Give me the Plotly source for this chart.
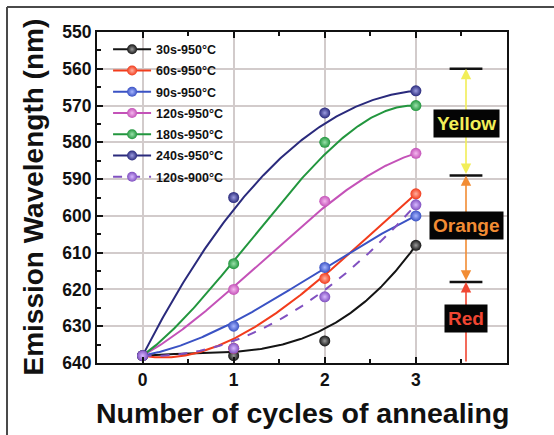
import numpy as np
import plotly.graph_objects as go

# Annealing cycles and measured emission wavelength (nm) for each condition
cycles = [0, 1, 2, 3]
wl_30s_950 = [638, 638, 634, 608]
wl_60s_950 = [638, 636, 617, 594]
wl_90s_950 = [638, 630, 614, 600]
wl_120s_950 = [638, 620, 596, 583]
wl_180s_950 = [638, 613, 580, 570]
wl_240s_950 = [638, 595, 572, 566]
wl_120s_900 = [638, 636, 622, 597]

series_names = ["30s-950°C", "60s-950°C", "90s-950°C", "120s-950°C",
                "180s-950°C", "240s-950°C", "120s-900°C"]
series_values = [wl_30s_950, wl_60s_950, wl_90s_950, wl_120s_950,
                 wl_180s_950, wl_240s_950, wl_120s_900]
series_colors = ["#141414", "#f23c1c", "#3a52c4", "#c452b8",
                 "#22963e", "#2a2a7c", "#8050c0"]
series_highlights = ["#9a9a9a", "#ffb0a0", "#a8b6ff", "#f4b8ee",
                     "#9ae0aa", "#9c9ce0", "#d8b8ff"]
series_dash = ["solid"] * 6 + ["dash"]

# Colour bands: boundaries (nm) and labels
band_edges = [560, 589, 618, 640]
band_names = ["Yellow", "Orange", "Red"]
band_colors = ["#f2ee58", "#f28c34", "#f04632"]

FONT = "Liberation Sans, Arial, sans-serif"


def smooth_curve(xv, yv, n=200):
    """Smooth connector: average of a Bezier through the control points
    and the cubic interpolant of the same points."""
    xv = np.asarray(xv, float)
    yv = np.asarray(yv, float)
    t = np.linspace(0, 1, n)
    xs = xv[0] + (xv[-1] - xv[0]) * t
    bez = ((1 - t) ** 3 * yv[0] + 3 * (1 - t) ** 2 * t * yv[1]
           + 3 * (1 - t) * t ** 2 * yv[2] + t ** 3 * yv[3])
    interp = np.polyval(np.polyfit(xv, yv, 3), xs)
    return xs, 0.5 * (bez + interp)


fig = go.Figure()

# smooth curves
for name, vals, col, dash in zip(series_names, series_values, series_colors, series_dash):
    xs, ys = smooth_curve(cycles, vals)
    fig.add_trace(go.Scatter(x=xs, y=ys, mode="lines", showlegend=False,
                             line=dict(color=col, width=2, dash=dash),
                             hoverinfo="skip"))

# measured points
for name, vals, col, hi in zip(series_names, series_values, series_colors, series_highlights):
    fig.add_trace(go.Scatter(x=cycles, y=vals, mode="markers", showlegend=False,
                             name=name,
                             marker=dict(size=11, color=col, line=dict(width=0),
                                         gradient=dict(type="radial", color=hi))))

# legend entries
for i, (name, col, hi, dash) in enumerate(zip(series_names, series_colors,
                                              series_highlights, series_dash)):
    fig.add_trace(go.Scatter(x=[None], y=[None], mode="lines+markers", name=name,
                             legendgroup=f"g{i}",
                             line=dict(color=col, width=2, dash=dash),
                             marker=dict(size=10, color=col, line=dict(width=0),
                                         gradient=dict(type="radial", color=hi))))

shapes = []
# outer frame (left and top)
shapes.append(dict(type="line", xref="paper", yref="paper",
                   x0=-0.2195, x1=-0.2195, y0=1.0755, y1=-0.25,
                   line=dict(color="#4a4a4a", width=2)))
shapes.append(dict(type="line", xref="paper", yref="paper",
                   x0=-0.2195, x1=1.2, y0=1.0755, y1=1.0755,
                   line=dict(color="#4a4a4a", width=2)))

band_x = 3.55
for edge in band_edges[:-1]:
    shapes.append(dict(type="line", xref="x", yref="y",
                       x0=band_x - 0.18, x1=band_x + 0.18, y0=edge, y1=edge,
                       line=dict(color="#111111", width=2.5)))

annotations = []
for i, (name, col) in enumerate(zip(band_names, band_colors)):
    top, bottom = band_edges[i], band_edges[i + 1]
    last = i == len(band_names) - 1
    annotations.append(dict(x=band_x, y=top, ax=band_x, ay=bottom,
                            xref="x", yref="y", axref="x", ayref="y",
                            text="", showarrow=True,
                            arrowhead=2, arrowsize=1.3, arrowwidth=1.6,
                            startarrowhead=2, startarrowsize=1.3,
                            arrowside="end" if last else "end+start",
                            arrowcolor=col))
label_y = [575, 602.5, 628]
for name, col, ly in zip(band_names, band_colors, label_y):
    annotations.append(dict(x=band_x, y=ly, xref="x", yref="y", text=name,
                            showarrow=False, bgcolor="#050505",
                            borderpad=3,
                            font=dict(family=FONT, size=19, color=col, weight="bold")))

# axis titles
annotations.append(dict(text="Number of cycles of annealing", xref="paper", yref="paper",
                        x=0.5, y=-0.152, xanchor="center", yanchor="middle",
                        showarrow=False,
                        font=dict(family=FONT, size=28.5, color="#111111", weight="bold")))
annotations.append(dict(text="Emission Wavelength (nm)", xref="paper", yref="paper",
                        x=-0.156, y=0.5, xanchor="center", yanchor="middle",
                        textangle=-90, showarrow=False,
                        font=dict(family=FONT, size=28, color="#111111", weight="bold")))

tickfont = dict(family=FONT, size=17.5, color="#111111", weight="bold")

fig.update_layout(
    width=554, height=435,
    margin=dict(l=97, r=47, t=32, b=72),
    paper_bgcolor="white", plot_bgcolor="white",
    shapes=shapes, annotations=annotations,
    showlegend=True,
    legend=dict(x=0.027, y=0.992, xanchor="left", yanchor="top",
                bgcolor="rgba(0,0,0,0)", tracegroupgap=2, itemwidth=38,
                font=dict(family=FONT, size=12.5, color="#111111", weight="bold")),
    xaxis=dict(range=[-0.5, 4], tickvals=[0, 1, 2, 3], ticks="inside",
               ticklen=6, tickwidth=2, tickcolor="#111111",
               showline=True, linewidth=2, linecolor="#111111", mirror="ticks",
               showgrid=True, gridcolor="#d2cbcb", gridwidth=1.5, zeroline=False,
               minor=dict(tick0=0, dtick=0.5, ticks="inside", ticklen=4,
                          tickwidth=1.5, tickcolor="#111111", showgrid=False),
               tickfont=tickfont, automargin=False),
    yaxis=dict(range=[640, 550], tick0=550, dtick=10, ticks="inside",
               ticklen=6, tickwidth=2, tickcolor="#111111",
               showline=True, linewidth=2, linecolor="#111111", mirror=True,
               showgrid=True, gridcolor="#d2cbcb", gridwidth=1.5, zeroline=False,
               minor=dict(dtick=5, ticks="inside", ticklen=4, tickwidth=1.5,
                          tickcolor="#111111", showgrid=False),
               tickfont=tickfont, automargin=False),
    yaxis2=dict(range=[640, 550], tick0=550, dtick=10, overlaying="y", side="right",
                anchor="x", ticks="inside", ticklen=6, tickwidth=2, tickcolor="#111111",
                showline=True, linewidth=2, linecolor="#111111",
                showgrid=False, zeroline=False,
                minor=dict(dtick=5, ticks="inside", ticklen=4, tickwidth=1.5,
                           tickcolor="#111111", showgrid=False),
                tickfont=tickfont, automargin=False),
)

fig.write_html("out.html")
